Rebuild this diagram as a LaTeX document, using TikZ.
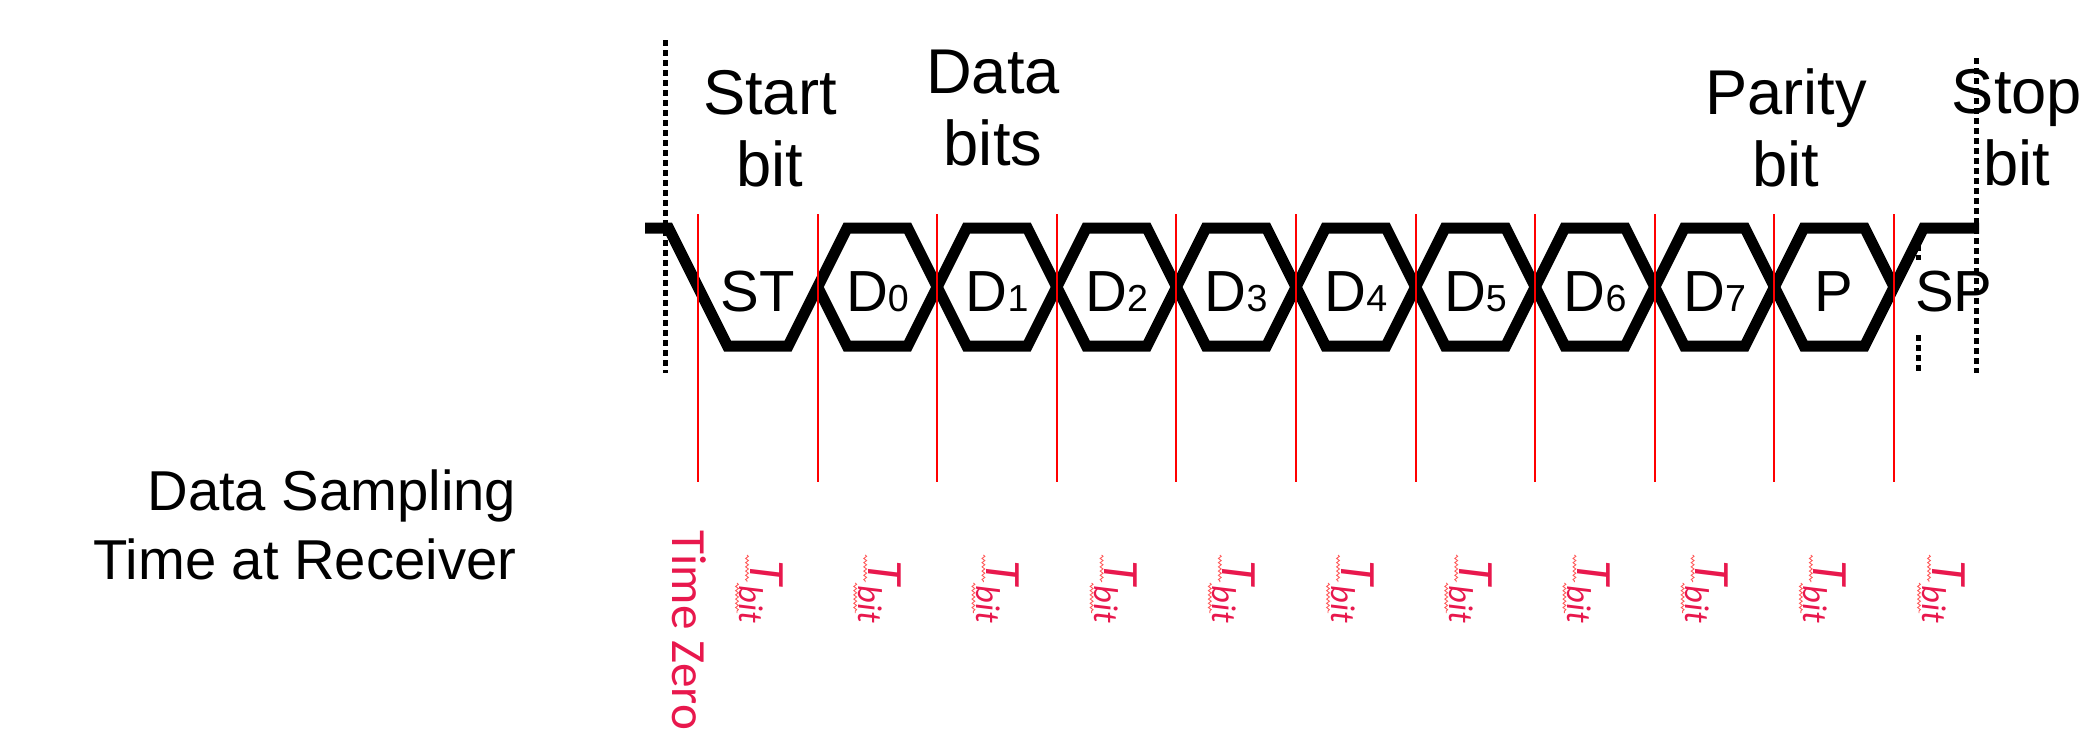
\documentclass[tikz,border=0pt]{standalone}
\usepackage{fontspec}
\setmainfont{Liberation Sans}
\newfontfamily\calfont{Carlito}
\usetikzlibrary{decorations.pathmorphing}
\definecolor{tzred}{RGB}{232,24,77}
\definecolor{spell}{RGB}{255,90,90}
\newcommand{\dg}[1]{{\fontsize{10.7}{12}\selectfont #1}}
\newcommand{\tbit}{{\calfont\itshape\fontsize{14.5}{14.5}\selectfont T\raisebox{-2.85pt}{\fontsize{9.8}{10}\selectfont bit}}}

\begin{document}
\begin{tikzpicture}[x=0.1mm, y=-0.1mm,
  wave/.style={line width=1.1mm, line join=miter},
  dotline/.style={line width=0.5mm, dash pattern=on 0.6mm off 0.4mm},
  sampleline/.style={red, line width=0.2mm},
  lbl/.style={font=\fontsize{18}{20.5}\selectfont, align=center, inner sep=0pt},
  bitlbl/.style={font=\fontsize{16.5}{18}\selectfont, inner sep=0pt, anchor=base},
  vlabel/.style={tzred, rotate=-90, anchor=base west, inner sep=0pt},
  squiggle/.style={spell, line width=0.25pt, decorate, decoration={snake, amplitude=0.4pt, segment length=1.2pt}}]
\useasboundingbox (0,0) rectangle (2092,738);

\draw[dotline] (665,40) -- (665,373);
\draw[dotline] (1918,235) -- (1918,373);

\node[lbl] (start) at (770,129) {Start\\bit};
\node[lbl] (data) at (993,108) {Data\\bits};
\node[lbl] (parity) at (1786,128) {Parity\\bit};
\node[lbl] (stop) at (2017,128) {Stop\\bit};
\node[lbl, font=\fontsize{16}{19.6}\selectfont, align=right, anchor=east] (sampling) at (517,525) {Data Sampling\\Time at Receiver};

\foreach \t [count=\k from 0] in {ST,D\dg{0},D\dg{1},D\dg{2},D\dg{3},D\dg{4},D\dg{5},D\dg{6},D\dg{7},P}
  \node[bitlbl] (b\k) at ({698+119.6*\k+59.8},311) {\t};
\node[bitlbl, fill=white, inner sep=2pt, text height=12.5pt, text depth=4pt] (b10) at (1953.8,311) {SP};

\draw[wave] (645,228) foreach \k in {0,2,4,6,8} {
  -- ({698+119.6*\k-29.5},228) -- ({698+119.6*\k+29.5},346)
  -- ({698+119.6*(\k+1)-29.5},346) -- ({698+119.6*(\k+1)+29.5},228)}
  -- (1864.5,228) -- (1894,287);
\draw[wave] (817.6,287) -- (847.1,346) foreach \k in {2,4,6,8} {
  -- ({698+119.6*\k-29.5},346) -- ({698+119.6*\k+29.5},228)
  -- ({698+119.6*(\k+1)-29.5},228) -- ({698+119.6*(\k+1)+29.5},346)}
  -- (1864.5,346) -- (1923.5,228) -- (1979,228);

\foreach \k in {0,...,10}
  \draw[sampleline] ({698+119.6*\k},214) -- ({698+119.6*\k},482);

\node[vlabel, font=\calfont\fontsize{14}{14}\selectfont] (zero) at (672,530) {Time Zero};
\foreach \k in {0,...,10} {
  \node[vlabel] (t\k) at ({750+118.2*\k},560) {\tbit};
  \draw[squiggle] (t\k.base west) ++(-3,-5) -- ++(0,27);
  \draw[squiggle] (t\k.base west) ++(-13,23) -- ++(0,30);
}

\draw[dotline] (1976,58) -- (1976,373);
\end{tikzpicture}
\end{document}
